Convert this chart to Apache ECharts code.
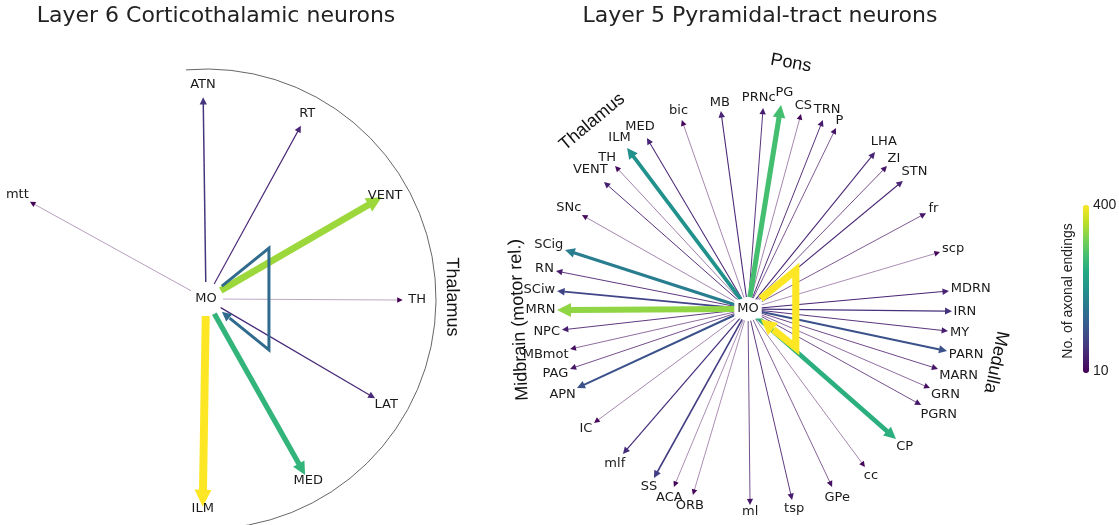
<!DOCTYPE html>
<html>
<head>
<meta charset="utf-8">
<script src="https://cdn.jsdelivr.net/npm/echarts@6/dist/echarts.min.js"></script>
<style>
  html, body { margin: 0; padding: 0; background: #fff; }
  #chart { width: 1119px; height: 525px; }
</style>
</head>
<body>
<div id="chart"></div>
<script>
// Colour scale: number of axonal endings
const VMIN = 10, VMAX = 400;
const colorbarLabels = ['400', '10'];
const colorbarTitle = 'No. of axonal endings';

// Layer 6 corticothalamic neurons: projections from MO
const l6Title = 'Layer 6 Corticothalamic neurons';
const l6Source = 'MO';
const l6Targets = ['ATN', 'RT', 'VENT', 'mtt', 'TH', 'LAT', 'MED', 'ILM'];
const l6Radius  = [201.7, 197.6, 203.0, 201.1, 196.7, 196.0, 201.9, 207.7];
const l6Angle   = [90.8, 61.3, 30.1, 151.1, 359.7, 329.6, 299.4, 269.1];
const l6Endings = [68, 50, 342, 12, 10, 57, 264, 400];
const l6SelfEndings = 146;
const l6Groups = ['Thalamus'];
const l6GroupRadius = [246];
const l6GroupAngle = [0.5];

// Layer 5 pyramidal-tract neurons: projections from MO
const l5Title = 'Layer 5 Pyramidal-tract neurons';
const l5Source = 'MO';
const l5Targets = ['bic', 'MB', 'PRNc', 'PG', 'CS', 'TRN', 'P', 'LHA', 'ZI', 'STN',
                   'fr', 'scp', 'MDRN', 'IRN', 'MY', 'PARN', 'MARN', 'GRN', 'PGRN', 'CP',
                   'cc', 'GPe', 'tsp', 'ml', 'ORB', 'ACA', 'SS', 'mlf', 'IC', 'APN',
                   'PAG', 'MBmot', 'NPC', 'MRN', 'SCiw', 'RN', 'SCig', 'SNc', 'VENT', 'TH',
                   'ILM', 'MED'];
const l5Radius  = [200.2, 199.8, 201.6, 206.7, 202.1, 203.3, 201.3, 201.9, 199.4, 201.0,
                   202.2, 200.3, 201.8, 204.0, 201.2, 203.4, 199.2, 198.4, 197.9, 197.0,
                   196.6, 196.8, 196.0, 196.0, 194.0, 192.8, 193.4, 191.4, 191.6, 188.4,
                   187.8, 182.4, 187.2, 191.0, 191.8, 195.7, 192.3, 190.8, 192.0, 195.3,
                   201.4, 198.6];
const l5Angle   = [109.3, 97.8, 85.7, 80.8, 74.8, 68.4, 64.1, 51.0, 45.8, 39.6,
                   28.3, 16.5, 5.1, 359.4, 353.7, 348.1, 342.5, 336.5, 331.0, 318.7,
                   306.5, 295.3, 283.0, 270.6, 253.5, 247.4, 240.9, 229.2, 216.5, 204.8,
                   198.6, 192.7, 186.4, 180.3, 174.6, 168.8, 162.1, 150.5, 138.6, 132.9,
                   126.9, 120.6];
const l5Endings = [18, 50, 42, 283, 18, 42, 30, 50, 33, 50,
                   30, 16, 48, 65, 42, 107, 35, 25, 33, 256,
                   18, 28, 40, 33, 16, 16, 80, 60, 18, 107,
                   33, 25, 40, 334, 88, 40, 174, 18, 42, 20,
                   205, 48];
const l5SelfEndings = 400;
const l5Groups = ['Pons', 'Thalamus', 'Midbrain (motor rel.)', 'Medulla'];
const l5GroupRadius = [249.7, 243.5, 229.3, 253.6];
const l5GroupAngle = [80.1, 129.8, 182.7, 347.9];

const viridis = ['#440154', '#482475', '#414487', '#355f8d', '#2a788e', '#21918c',
                 '#22a884', '#44bf70', '#7ad151', '#bddf26', '#fde725'];

const LABEL_FONT = '13px "DejaVu Sans"';
const GROUP_FONT = '18px "Liberation Sans"';
const measureCtx = document.createElement('canvas').getContext('2d');
function textWidth(s, font) { measureCtx.font = font; return measureCtx.measureText(s).width; }

// drawing styles of the two panels
const l6Style = { widthScale: 7.6, startGap: 17, labelMode: 'node',
                  loopAngle: 39, loopNear: 20.4, loopFar: 81, sourceBg: null };
const l5Style = { widthScale: 6.8, startGap: 12, labelMode: 'box',
                  loopAngle: 39, loopNear: 16.4, loopFar: 61.5, sourceBg: '#fff' };
// small hand nudges for crowded labels
const l5Nudge = { PRNc: [-5, -2], PG: [2, -4] };

function edgeWidth(v, style) {
  return 0.35 + style.widthScale * (v - VMIN) / (VMAX - VMIN);
}

function arrowHead(tip, ux, uy, w, color, z2) {
  const len = 5 + 1.5 * w;
  const half = len * 0.5;
  const bx = tip[0] - ux * len, by = tip[1] - uy * len;
  return {
    base: [bx, by],
    el: {
      type: 'polygon', z2: z2,
      shape: { points: [[tip[0], tip[1]], [bx - uy * half, by + ux * half], [bx + uy * half, by - ux * half]] },
      style: { fill: color }
    }
  };
}

function edgeRenderer(names, style, nudge) {
  return function (params, api) {
    const c = api.coord([0, api.value(1)]);
    const tip = api.coord([api.value(0), api.value(1)]);
    const dx = tip[0] - c[0], dy = tip[1] - c[1];
    const len = Math.hypot(dx, dy);
    const ux = dx / len, uy = dy / len;
    const v = api.value(2);
    const w = edgeWidth(v, style);
    const color = api.visual('color');
    const head = arrowHead(tip, ux, uy, w, color, v);
    const name = names[params.dataIndex];
    let lx, ly;
    if (style.labelMode === 'node') {
      const off = Math.max(0, 15 - 1.6 * w);
      lx = tip[0] + ux * off; ly = tip[1] + uy * off;
    } else {
      const tw = textWidth(name, LABEL_FONT);
      const ext = Math.abs(ux) * tw / 2 + Math.abs(uy) * 5.5 + 1.5;
      lx = tip[0] + ux * ext; ly = tip[1] + uy * ext;
    }
    const nd = nudge && nudge[name];
    if (nd) { lx += nd[0]; ly += nd[1]; }
    return {
      type: 'group',
      children: [
        {
          type: 'line', z2: v,
          shape: { x1: c[0] + ux * style.startGap, y1: c[1] + uy * style.startGap,
                   x2: head.base[0] + ux * 0.5, y2: head.base[1] + uy * 0.5 },
          style: { stroke: color, lineWidth: w, lineCap: 'butt' }
        },
        head.el,
        {
          type: 'text', z2: 1000,
          style: { text: name, x: lx, y: ly, align: 'center', verticalAlign: 'middle',
                   font: LABEL_FONT, fill: '#1a1a1a' }
        }
      ]
    };
  };
}

function loopRenderer(source, style) {
  return function (params, api) {
    const c = api.coord([0, 0]);
    const v = api.value(2);
    const w = edgeWidth(v, style);
    const color = api.visual('color');
    const a = style.loopAngle * Math.PI / 180;
    const ca = Math.cos(a), sa = Math.sin(a);
    const n = style.loopNear, f = style.loopFar;
    const p0 = [c[0] + n * ca, c[1] - n * sa];
    const p1 = [c[0] + f * ca, c[1] - f * sa];
    const p2 = [c[0] + f * ca, c[1] + f * sa];
    const p3 = [c[0] + n * ca, c[1] + n * sa];
    const ux = -ca, uy = -sa;
    const head = arrowHead(p3, ux, uy, w, color, v);
    const srcText = { text: source, x: c[0], y: c[1], align: 'center', verticalAlign: 'middle',
                      font: LABEL_FONT, fill: '#1a1a1a' };
    if (style.sourceBg) { srcText.backgroundColor = style.sourceBg; srcText.padding = [3, 3]; }
    return {
      type: 'group',
      children: [
        {
          type: 'polyline', z2: v,
          shape: { points: [p0, p1, p2, [head.base[0] - ux * 0.5, head.base[1] - uy * 0.5]] },
          style: { stroke: color, lineWidth: w, fill: 'none', lineJoin: 'miter', miterLimit: 10 }
        },
        head.el,
        { type: 'text', z2: 1000, style: srcText }
      ]
    };
  };
}

function groupLabelRenderer(names, withArc) {
  return function (params, api) {
    const c = api.coord([0, 0]);
    const p = api.coord([api.value(0), api.value(1)]);
    const name = names[params.dataIndex];
    let rot = api.value(1) - 90;
    if (rot > 180) rot -= 360;
    let text = name, rich = null;
    const m = name.match(/^(.*\()(rel\.)(\))$/);
    if (m) {
      text = '{n|' + m[1] + '}{i|' + m[2] + '}{n|' + m[3] + '}';
      rich = { n: { font: GROUP_FONT }, i: { font: 'italic ' + GROUP_FONT } };
    }
    const children = [{
      type: 'text', z2: 1000, x: p[0], y: p[1], rotation: rot * Math.PI / 180,
      style: { text: text, rich: rich, x: 0, y: 0, align: 'center', verticalAlign: 'middle',
               font: GROUP_FONT, fill: '#111' }
    }];
    if (withArc && params.dataIndex === 0) {
      // boundary of the thalamic target group
      const span = 95 * Math.PI / 180;
      children.push({
        type: 'arc', z2: 0,
        shape: { cx: c[0], cy: c[1], r: withArc, startAngle: -span, endAngle: span, clockwise: true },
        style: { stroke: '#555', lineWidth: 0.9, fill: 'none' }
      });
    }
    return { type: 'group', children: children };
  };
}

function zip3(a, b, c) { return a.map((x, i) => [x, b[i], c[i]]); }
function zip2(a, b) { return a.map((x, i) => [x, b[i]]); }

const chart = echarts.init(document.getElementById('chart'), null, { renderer: 'canvas' });

const BAR = { left: 1083, top: 205, width: 6, height: 168 };
const TITLE_STYLE = { fontFamily: 'DejaVu Sans', fontSize: 22, fontWeight: 'normal', color: '#222' };

chart.setOption({
  animation: false,
  backgroundColor: '#fff',
  title: [
    { text: l6Title, left: 216, top: 5, textAlign: 'center', padding: 0, textStyle: TITLE_STYLE },
    { text: l5Title, left: 760, top: 5, textAlign: 'center', padding: 0, textStyle: TITLE_STYLE }
  ],
  polar: [
    { center: [206, 299], radius: 300 },
    { center: [748, 309], radius: 300 }
  ],
  radiusAxis: [
    { polarIndex: 0, type: 'value', min: 0, max: 300, show: false },
    { polarIndex: 1, type: 'value', min: 0, max: 300, show: false }
  ],
  angleAxis: [
    { polarIndex: 0, type: 'value', min: 0, max: 360, startAngle: 0, clockwise: false, show: false },
    { polarIndex: 1, type: 'value', min: 0, max: 360, startAngle: 0, clockwise: false, show: false }
  ],
  visualMap: {
    type: 'continuous', min: VMIN, max: VMAX, dimension: 2,
    seriesIndex: [0, 1, 3, 4],
    orient: 'vertical', left: BAR.left, top: BAR.top,
    itemWidth: BAR.width, itemHeight: BAR.height, padding: 0,
    calculable: false, text: null, showLabel: false,
    inRange: { color: viridis }
  },
  graphic: [
    { type: 'text', left: BAR.left + BAR.width + 4, top: BAR.top - 7,
      style: { text: colorbarLabels[0], font: '14px "Liberation Sans"', fill: '#222' } },
    { type: 'text', left: BAR.left + BAR.width + 4, top: BAR.top + BAR.height - 9,
      style: { text: colorbarLabels[1], font: '14px "Liberation Sans"', fill: '#222' } },
    { type: 'text', x: BAR.left - 15, y: BAR.top + BAR.height / 2 + 2, rotation: Math.PI / 2,
      style: { text: colorbarTitle, font: '14px "Liberation Sans"', fill: '#222',
               align: 'center', verticalAlign: 'middle' } }
  ],
  series: [
    { type: 'custom', coordinateSystem: 'polar', polarIndex: 0, z: 2,
      data: zip3(l6Radius, l6Angle, l6Endings),
      renderItem: edgeRenderer(l6Targets, l6Style, null) },
    { type: 'custom', coordinateSystem: 'polar', polarIndex: 0, z: 3,
      data: [[0, 0, l6SelfEndings]],
      renderItem: loopRenderer(l6Source, l6Style) },
    { type: 'custom', coordinateSystem: 'polar', polarIndex: 0, z: 1,
      data: zip2(l6GroupRadius, l6GroupAngle),
      renderItem: groupLabelRenderer(l6Groups, 230) },
    { type: 'custom', coordinateSystem: 'polar', polarIndex: 1, z: 2,
      data: zip3(l5Radius, l5Angle, l5Endings),
      renderItem: edgeRenderer(l5Targets, l5Style, l5Nudge) },
    { type: 'custom', coordinateSystem: 'polar', polarIndex: 1, z: 3,
      data: [[0, 0, l5SelfEndings]],
      renderItem: loopRenderer(l5Source, l5Style) },
    { type: 'custom', coordinateSystem: 'polar', polarIndex: 1, z: 1,
      data: zip2(l5GroupRadius, l5GroupAngle),
      renderItem: groupLabelRenderer(l5Groups, 0) }
  ]
});
</script>
</body>
</html>
